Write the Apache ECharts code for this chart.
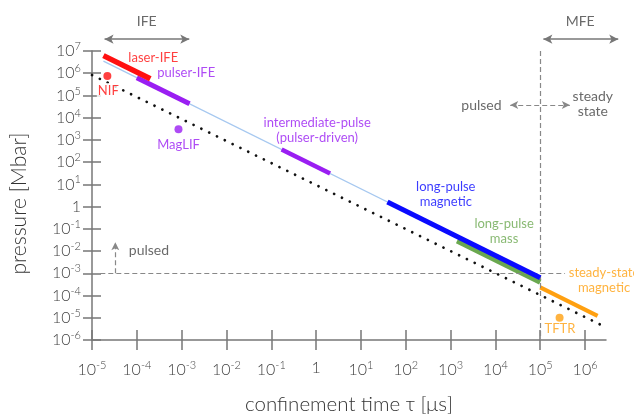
<!DOCTYPE html>
<html>
<head>
<meta charset="utf-8">
<script src="https://cdn.jsdelivr.net/npm/echarts@6/dist/echarts.min.js"></script>
<style>
  html, body { margin: 0; padding: 0; background: #fff; }
  #chart { width: 634px; height: 420px; }
</style>
</head>
<body>
<div id="chart"></div>
<script>
// Confinement time tau [us] vs. pressure [Mbar]; both axes are log10 decades.
const xTickExps = [-5, -4, -3, -2, -1, 0, 1, 2, 3, 4, 5, 6];
const yTickExps = [-6, -5, -4, -3, -2, -1, 0, 1, 2, 3, 4, 5, 6, 7];

// Reference p*tau trend (thin light-blue line)
const trendTau = [1.8e-5, 1e5];
const trendP = [3.5e6, 6.3e-4];

// Lower dotted bound
const dottedTau = [1e-5, 2.3e6];
const dottedP = [8.3e5, 4.7e-6];

// Regimes (thick segments)
const laserTau = [1.8e-5, 2.0e-4];
const laserP = [6.2e6, 5.6e5];
const pulserTau = [1.0e-4, 1.5e-3];
const pulserP = [6.3e5, 4.2e4];
const interTau = [0.17, 2.05];
const interP = [370, 31];
const magTau = [39, 1e5];
const magP = [1.6, 6.3e-4];
const massTau = [1.4e3, 1e5];
const massP = [2.9e-2, 4.0e-4];
const steadyTau = [1e5, 1.9e6];
const steadyP = [2.34e-4, 1.23e-5];

// Experiments
const expNames = ['NIF', 'MagLIF', 'TFTR'];
const expTau = [2.2e-5, 8.5e-4, 2.7e5];
const expP = [7.6e5, 3000, 1.0e-5];

// Boundaries
const pulsedLimitP = 1e-3;     // horizontal dashed line
const steadyLimitTau = 1e5;    // vertical dashed line

const C_RED = '#ff1010';
const C_PURPLE = '#9a1ef2';
const C_BLUE = '#0a0aff';
const C_GREEN = '#6aa84f';
const C_ORANGE = '#ffa010';
const C_LIGHT = '#a6c8f0';
const C_AXIS = '#777777';
const C_TEXT = '#444444';
const FONT = 'Lato, "Noto Sans", sans-serif';

const lg = v => Math.log10(v);
const pts = (ts, ps) => ts.map((t, i) => [lg(t), lg(ps[i])]);

// Text annotations: [tau, p, text, colour, fontSize, white backing]
const notes = [
  [10 ** -3.633, 10 ** 6.68, 'laser-IFE', C_RED, 13, false],
  [10 ** -2.897, 10 ** 6.0, 'pulser-IFE', C_PURPLE, 13, false],
  [10 ** -4.637, 10 ** 5.22, 'NIF', C_RED, 13, true],
  [10 ** -3.069, 10 ** 2.80, 'MagLIF', C_PURPLE, 13, false],
  [10 ** 0.023, 10 ** 3.45, 'intermediate-pulse\n(pulser-driven)', C_PURPLE, 13, false],
  [10 ** 2.893, 10 ** 0.54, 'long-pulse\nmagnetic', C_BLUE, 13, false],
  [10 ** 4.193, 10 ** -1.10, 'long-pulse\nmass', C_GREEN, 13, false],
  [10 ** 6.423, 10 ** -3.33, 'steady-state\nmagnetic', C_ORANGE, 13, false],
  [10 ** 5.441, 10 ** -5.49, 'TFTR', C_ORANGE, 13, false],
  [10 ** -3.729, 10 ** -1.965, 'pulsed', C_TEXT, 14, false],
  [10 ** 3.689, 10 ** 4.571, 'pulsed', C_TEXT, 14, false],
  [10 ** 6.173, 10 ** 4.60, 'steady\nstate', C_TEXT, 14, false]
];

// Header arrows above the plot: [from exp, to exp, label, label exp]
const ifeSpan = [-4.72, -2.83, 'IFE', -3.78];
const mfeSpan = [5.07, 6.74, 'MFE', 5.89];

const X_MIN = -5, X_MAX = 6.467;
const GRID_LEFT = 92, GRID_RIGHT = 28, GRID_TOP = 51, GRID_BOTTOM = 70.7;
const W = 634;
const mainW = W - GRID_LEFT - GRID_RIGHT;
const topRight = 8;
const topW = W - GRID_LEFT - topRight;
const X_MAX_TOP = X_MIN + (X_MAX - X_MIN) * topW / mainW;

const supLabel = v => {
  const e = Math.round(v);
  return e === 0 ? '{b|1}' : '{b|10}{s|' + e + '}';
};
const richExp = {
  b: { fontSize: 16, fontFamily: FONT, fontWeight: 300, color: C_TEXT },
  s: { fontSize: 11, fontFamily: FONT, fontWeight: 300, color: C_TEXT, padding: [0, 0, 9, 0] }
};

function seg(ts, ps, color, width, z) {
  return {
    type: 'line', data: pts(ts, ps), symbol: 'none', silent: true, z: z,
    lineStyle: { color: color, width: width, cap: 'butt' }
  };
}

const dashStyle = { color: '#888', width: 1.2, type: [5, 3] };

const option = {
  animation: false,
  backgroundColor: '#fff',
  grid: [
    { left: GRID_LEFT, right: GRID_RIGHT, top: GRID_TOP, bottom: GRID_BOTTOM },
    { left: GRID_LEFT, right: topRight, top: 10, height: 40 }
  ],
  xAxis: [
    {
      type: 'value', min: X_MIN, max: X_MAX, gridIndex: 0, position: 'bottom',
      axisLine: { onZero: false, lineStyle: { color: C_AXIS, width: 1.5 } },
      axisTick: { show: true, length: 10, customValues: xTickExps, lineStyle: { color: C_AXIS, width: 1.5 } },
      axisLabel: { customValues: xTickExps, margin: 20, formatter: supLabel, rich: richExp },
      splitLine: { show: false },
      name: 'confinement time τ [μs]', nameLocation: 'middle', nameGap: 54,
      nameTextStyle: { fontSize: 20.5, fontFamily: FONT, fontWeight: 300, color: '#333' }
    },
    {
      type: 'value', min: X_MIN, max: X_MAX, gridIndex: 0, position: 'bottom',
      axisLine: { show: false, onZero: false },
      axisTick: { show: true, inside: true, length: 10, customValues: xTickExps, lineStyle: { color: C_AXIS, width: 1.5 } },
      axisLabel: { show: false }, splitLine: { show: false }
    },
    { type: 'value', min: X_MIN, max: X_MAX_TOP, gridIndex: 1, show: false }
  ],
  yAxis: [
    {
      type: 'value', min: -6, max: 7, interval: 1, gridIndex: 0, position: 'left',
      axisLine: { onZero: false, lineStyle: { color: C_AXIS, width: 1.5 } },
      axisTick: { show: true, length: 9, lineStyle: { color: C_AXIS, width: 1.5 } },
      axisLabel: { margin: 11, formatter: supLabel, rich: richExp },
      splitLine: { show: false },
      name: 'pressure [Mbar]', nameLocation: 'middle', nameGap: 62,
      nameTextStyle: { fontSize: 21, fontFamily: FONT, fontWeight: 300, color: '#333', padding: [0, 16, 0, 0] }
    },
    {
      type: 'value', min: -6, max: 7, interval: 1, gridIndex: 0, position: 'left',
      axisLine: { show: false, onZero: false },
      axisTick: { show: true, inside: true, length: 9, lineStyle: { color: C_AXIS, width: 1.5 } },
      axisLabel: { show: false }, splitLine: { show: false }
    },
    { type: 'value', min: 0, max: 1, gridIndex: 1, show: false }
  ],
  series: [
    seg(trendTau, trendP, C_LIGHT, 1.3, 2),
    {
      type: 'line', data: pts(dottedTau, dottedP), symbol: 'none', silent: true, z: 3,
      lineStyle: { color: '#111', width: 2.7, type: [0.1, 8.6], cap: 'round' }
    },
    seg(pulserTau, pulserP, C_PURPLE, 5, 4),
    seg(laserTau, laserP, C_RED, 5.5, 5),
    seg(interTau, interP, C_PURPLE, 4.5, 4),
    seg(massTau, massP, C_GREEN, 5.5, 4),
    seg(magTau, magP, C_BLUE, 5, 5),
    seg(steadyTau, steadyP, C_ORANGE, 4.2, 4),
    {
      type: 'scatter', silent: true, z: 6, symbolSize: 8,
      data: expNames.map((n, i) => ({
        name: n, value: [lg(expTau[i]), lg(expP[i])],
        itemStyle: { color: [C_RED, C_PURPLE, C_ORANGE][i] }
      }))
    },
    // dashed limits and small direction arrows
    {
      type: 'line', data: [], silent: true, z: 1,
      markLine: {
        silent: true, animation: false, symbol: ['none', 'none'],
        label: { show: false }, lineStyle: dashStyle, emphasis: { disabled: true },
        data: [
          [{ coord: [lg(steadyLimitTau), 7] }, { coord: [lg(steadyLimitTau), -6] }],
          [{ coord: [-4.815, lg(pulsedLimitP)] }, { coord: [5.553, lg(pulsedLimitP)] }],
          [{ coord: [-4.48, lg(pulsedLimitP)], symbol: 'none' },
           { coord: [-4.48, -1.6], symbol: 'arrow', symbolSize: [6, 8] }],
          [{ coord: [4.33, 4.57], symbol: 'arrow', symbolSize: [6, 8] },
           { coord: [5.66, 4.57], symbol: 'arrow', symbolSize: [6, 8] }]
        ]
      }
    },
    {
      type: 'scatter', silent: true, z: 7, symbolSize: 1,
      itemStyle: { color: 'transparent' },
      data: notes.map(n => ({
        value: [lg(n[0]), lg(n[1])],
        label: {
          show: true, position: 'inside', formatter: n[2], color: n[3],
          fontSize: n[4], fontFamily: FONT, lineHeight: 15, align: 'center',
          backgroundColor: n[5] ? '#fff' : 'transparent', padding: n[5] ? [0, 1] : 0
        }
      }))
    },
    // header arrows (IFE / MFE)
    {
      type: 'line', data: [], xAxisIndex: 2, yAxisIndex: 2, silent: true,
      markLine: {
        silent: true, animation: false, symbol: ['arrow', 'arrow'], symbolSize: [7, 9],
        label: { show: false }, lineStyle: { color: '#777', width: 1.5, type: 'solid' },
        emphasis: { disabled: true },
        data: [
          [{ coord: [ifeSpan[0], 0.27] }, { coord: [ifeSpan[1], 0.27] }],
          [{ coord: [mfeSpan[0], 0.27] }, { coord: [mfeSpan[1], 0.27] }]
        ]
      }
    },
    {
      type: 'scatter', xAxisIndex: 2, yAxisIndex: 2, silent: true, symbolSize: 1,
      itemStyle: { color: 'transparent' },
      data: [ifeSpan, mfeSpan].map(s => ({
        value: [s[3], 0.71],
        label: { show: true, position: 'inside', formatter: s[2], color: C_TEXT, fontSize: 14, fontFamily: FONT }
      }))
    }
  ]
};

const chart = echarts.init(document.getElementById('chart'), null, { renderer: 'canvas' });
chart.setOption(option);
</script>
</body>
</html>
